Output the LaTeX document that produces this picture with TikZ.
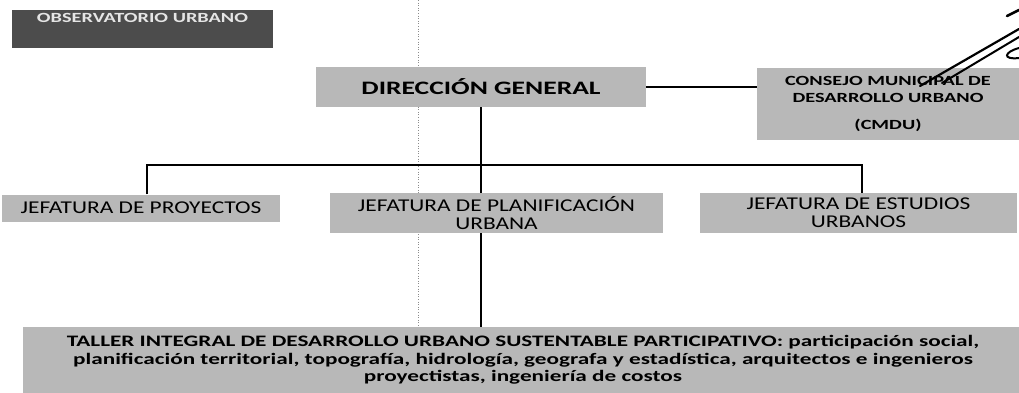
\documentclass[tikz,border=0pt]{standalone}
\usepackage{fontspec}
\setmainfont{Carlito}
\newfontfamily\widebold[FakeStretch=1.45]{Carlito Bold}
\newfontfamily\wideplain[FakeStretch=1.3]{Carlito}
\usetikzlibrary{positioning}

\begin{document}
\begin{tikzpicture}[x=1pt, y=-1pt,
  box/.style={fill=black!28, inner sep=0pt, align=center},
  link/.style={line width=1.8pt, black}]
  \useasboundingbox (0,0) rectangle (1019,393);

  % fold of the scanned page
  \draw[black!45, dotted, line width=0.6pt] (418,0) -- (418,393);

  \node[box, fill=black!70, minimum width=261pt, minimum height=38pt,
        font=\widebold\fontsize{14}{14}\selectfont, text=white!90!black]
    (obs) at (142.5,29) {OBSERVATORIO URBANO\\[8pt]\mbox{}};

  \node[box, minimum width=330pt, minimum height=40pt,
        font=\widebold\fontsize{19}{20}\selectfont] (dg) at (481,87) {DIRECCIÓN GENERAL};

  \node[box, minimum width=262pt, minimum height=72pt,
        font=\widebold\fontsize{14}{17}\selectfont] (cmdu) at (888,104)
    {CONSEJO MUNICIPAL DE\\DESARROLLO URBANO\\[10pt](CMDU)};

  \node[box, minimum width=278pt, minimum height=27pt,
        font=\wideplain\fontsize{18}{18}\selectfont] (proy) at (141,208) {JEFATURA DE PROYECTOS};

  \node[box, minimum width=333pt, minimum height=40pt,
        font=\wideplain\fontsize{18}{18}\selectfont] (plan) at (496.5,213)
    {JEFATURA DE PLANIFICACIÓN\\URBANA};

  \node[box, minimum width=317pt, minimum height=40pt,
        font=\wideplain\fontsize{18}{18}\selectfont] (est) at (858.5,213)
    {JEFATURA DE ESTUDIOS\\URBANOS};

  \node[box, minimum width=1000pt, minimum height=66pt,
        font=\widebold\fontsize{16}{17.5}\selectfont] (taller) at (523,360)
    {TALLER INTEGRAL DE DESARROLLO URBANO SUSTENTABLE PARTICIPATIVO: participación social,\\
     planificación territorial, topografía, hidrología, geografa y estadística, arquitectos e ingenieros\\
     proyectistas, ingeniería de costos};

  % connectors
  \coordinate (busL) at (147,165);
  \coordinate (busR) at (862,165);
  \draw[link] (dg.east) -- (dg.east -| cmdu.west);
  \draw[link] (dg.south) -- (dg.south |- plan.north);
  \draw[link] (busL |- proy.north) -- (busL) -- (busR) -- (busR |- est.north);
  \draw[link] (dg.south |- plan.south) -- (dg.south |- taller.north);

  % handwritten marks
  \draw[line width=2.2pt, line cap=round] (920,86) -- (1019,29);
  \draw[line width=2pt, line cap=round] (942,83) -- (1019,37);
  \draw[line width=2pt, line cap=round] (1019,48) .. controls (1004,52) and (1002,60) .. (1019,58);
  \draw[line width=2.6pt, line cap=round] (1007,16) -- (1019,10);
\end{tikzpicture}
\end{document}
